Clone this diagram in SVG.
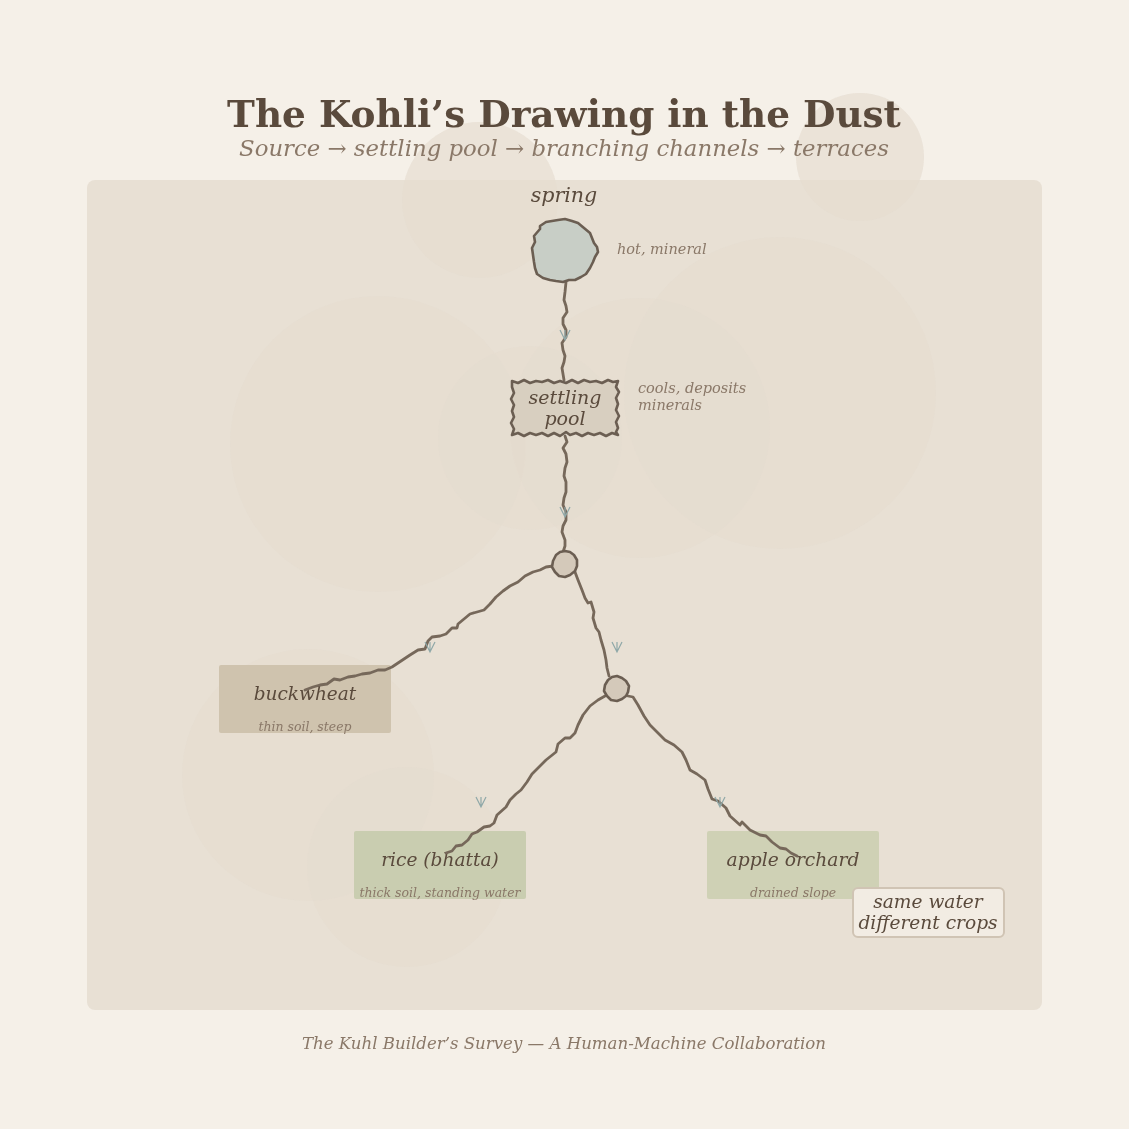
<svg xmlns="http://www.w3.org/2000/svg" width="1129" height="1129" viewBox="0 0 1129 1129">
<defs>
<style>
.serif{font-family:"DejaVu Serif","Liberation Serif",serif}
.it{font-style:italic}
.flow{fill:none;stroke:#76685a;stroke-width:2.8;stroke-linejoin:round;stroke-linecap:round}
.tick{fill:none;stroke:#8fa8a8;stroke-width:1.2}
.blob{fill:#e0d5c6;opacity:0.35}
.edge{stroke:#6b5e52;stroke-width:2.6;stroke-linejoin:round}
</style>
</defs>
<rect width="1129" height="1129" fill="#f5f0e8"/>
<circle class="blob" cx="480" cy="200" r="78"/>
<circle class="blob" cx="860" cy="157" r="64"/>
<rect x="87" y="180" width="955" height="830" rx="8" fill="#e8e0d4"/>
<g opacity="0.5">
<circle class="blob" cx="480" cy="200" r="78"/>
<circle class="blob" cx="860" cy="157" r="64"/>
<circle class="blob" cx="378" cy="444" r="148"/>
<circle class="blob" cx="530" cy="438" r="92"/>
<circle class="blob" cx="640" cy="428" r="130"/>
<circle class="blob" cx="780" cy="393" r="156"/>
<circle class="blob" cx="308" cy="775" r="126"/>
<circle class="blob" cx="407" cy="867" r="100"/>
</g>
<text class="serif" x="564" y="127" text-anchor="middle" font-size="37.4" font-weight="bold" fill="#5a4a3c">The Kohli’s Drawing in the Dust</text>
<text class="serif it" x="564" y="156" text-anchor="middle" font-size="22.8" fill="#8a7868">Source → settling pool → branching channels → terraces</text>

<g id="buckwheat">
<rect x="219" y="665" width="172" height="68" rx="2" fill="#cfc3ae"/>
<text class="serif it" x="305" y="700" text-anchor="middle" font-size="18.5" fill="#5a4a3c">buckwheat</text>
<text class="serif it" x="305" y="731" text-anchor="middle" font-size="12.5" fill="#8a7868">thin soil, steep</text>
</g>

<g id="rice">
<rect x="354" y="831" width="172" height="68" rx="2" fill="#c9cdb0"/>
<text class="serif it" x="440" y="866" text-anchor="middle" font-size="18.6" fill="#5a4a3c">rice (bhatta)</text>
<text class="serif it" x="440" y="897" text-anchor="middle" font-size="12.5" fill="#8a7868">thick soil, standing water</text>
</g>

<g id="apple">
<rect x="707" y="831" width="172" height="68" rx="2" fill="#cfd1b5"/>
<text class="serif it" x="793" y="866" text-anchor="middle" font-size="18.7" fill="#5a4a3c">apple orchard</text>
<text class="serif it" x="793" y="897" text-anchor="middle" font-size="12.5" fill="#8a7868">drained slope</text>
</g>

<g id="connectors">
<path class="flow" d="M566,282 L565,292 L564,300 L566,306 L567,312 L563,318 L563,324 L566,330 L566,337 L562,343 L563,350 L565,356 L564,362 L562,368 L563,374 L564,380"/>
<path class="flow" d="M565,436 L567,442 L563,448 L566,454 L567,462 L565,468 L564,476 L566,482 L566,492 L564,498 L563,505 L566,512 L566,520 L563,526 L562,532 L565,540 L565,546 L563,552"/>
<path class="flow" d="M553,566 L546,567 L540,570 L533,572 L525,576 L518,582 L510,586 L503,591 L496,597 L490,604 L484,610 L477,612 L470,614 L464,619 L458,624 L457,628 L452,628 L446,634 L440,636 L432,637 L428,641 L425,649 L418,650 L410,655 L404,659 L398,663 L392,667 L385,670 L378,670 L370,673 L362,674 L355,676 L348,677 L340,680 L334,679 L327,684 L320,685 L313,687 L305,690"/>
<path class="flow" d="M575,572 L578,580 L582,590 L585,598 L588,603 L591,602 L594,612 L593,618 L596,628 L599,632 L601,640 L604,650 L606,660 L607,668 L609,676"/>
<path class="flow" d="M605,696 L598,700 L590,706 L583,715 L578,725 L575,733 L570,738 L565,738 L558,744 L556,752 L546,760 L539,767 L532,774 L527,782 L521,790 L516,794 L510,800 L506,807 L497,815 L494,823 L490,826 L484,827 L477,832 L472,834 L468,840 L462,845 L456,846 L452,851 L446,853"/>
<path class="flow" d="M628,696 L633,697 L638,705 L644,716 L650,725 L657,732 L665,740 L674,745 L682,752 L686,760 L690,770 L697,774 L705,780 L708,789 L712,799 L718,801 L726,808 L730,816 L740,825 L742,822 L750,830 L760,835 L766,836 L772,842 L780,848 L786,849 L791,853 L797,856"/>
<path class="tick" d="M560,330 L565,340 L570,330 M565,330 V340"/>
<path class="tick" d="M560,507 L565,517 L570,507 M565,507 V517"/>
<path class="tick" d="M425,642 L430,652 L435,642 M430,642 V652"/>
<path class="tick" d="M612,642 L617,652 L622,642 M617,642 V652"/>
<path class="tick" d="M476,797 L481,807 L486,797 M481,797 V807"/>
<path class="tick" d="M715,797 L720,807 L725,797 M720,797 V807"/>
</g>

<g id="spring">
<path class="edge" fill="#c8cec6" d="M565,219 L572,221 L578,223 L584,228 L590,233 L592,238 L594,243 L597,247 L598,252 L595,257 L593,262 L590,268 L586,274 L581,277 L575,280 L569,280 L563,282 L556,281 L550,280 L543,278 L537,274 L535,268 L534,262 L533,255 L532,248 L535,242 L534,236 L540,229 L540,226 L546,222 L552,221 L558,220 Z"/>
<text class="serif it" x="564" y="202" text-anchor="middle" font-size="20.6" fill="#5a4a3c">spring</text>
<text class="serif it" x="617" y="254" font-size="14.5" fill="#8a7868">hot, mineral</text>
</g>

<g id="pool">
<path class="edge" fill="#d8cfc0" d="M512,381 L518,383 L524,380 L530,383 L536,381 L542,382 L548,380 L554,383 L560,381 L566,383 L572,380 L578,383 L584,380 L590,382 L596,381 L602,383 L608,380 L613,382 L618,381 L616,387 L619,392 L616,398 L618,404 L616,410 L619,416 L616,422 L618,428 L616,432 L618,435 L612,433 L606,436 L600,433 L594,435 L588,433 L582,436 L576,433 L570,435 L566,432 L560,436 L554,433 L548,436 L542,433 L536,435 L530,433 L524,436 L518,433 L512,435 L514,429 L511,423 L514,417 L512,411 L514,405 L511,399 L514,393 L512,387 Z"/>
<text class="serif it" x="565" y="404" text-anchor="middle" font-size="19" fill="#5a4a3c">settling</text>
<text class="serif it" x="565" y="425" text-anchor="middle" font-size="19" fill="#5a4a3c">pool</text>
<text class="serif it" x="638" y="393" font-size="14.5" fill="#8a7868">cools, deposits</text>
<text class="serif it" x="638" y="410" font-size="14.5" fill="#8a7868">minerals</text>
</g>

<g id="junction1">
<path class="edge" fill="#d4c9ba" d="M565,551 L570,552 L574,555 L577,560 L577,566 L575,571 L570,575 L565,577 L559,576 L555,572 L552,567 L553,561 L556,555 L560,552 Z"/>
</g>
<g id="junction2">
<path class="edge" fill="#d4c9ba" d="M617,676 L622,678 L626,681 L629,686 L628,692 L626,696 L622,699 L617,701 L611,700 L607,696 L604,691 L605,685 L608,680 L612,677 Z"/>
</g>

<g id="note">
<rect x="853" y="888" width="151" height="49" rx="5" fill="#f2ece3" stroke="#d0c4b4" stroke-width="2"/>
<text class="serif it" x="928" y="908" text-anchor="middle" font-size="18.6" fill="#5a4a3c">same water</text>
<text class="serif it" x="928" y="929" text-anchor="middle" font-size="18.6" fill="#5a4a3c">different crops</text>
</g>

<text class="serif it" x="564" y="1049" text-anchor="middle" font-size="16.6" fill="#8a7868">The Kuhl Builder’s Survey — A Human-Machine Collaboration</text>
</svg>
